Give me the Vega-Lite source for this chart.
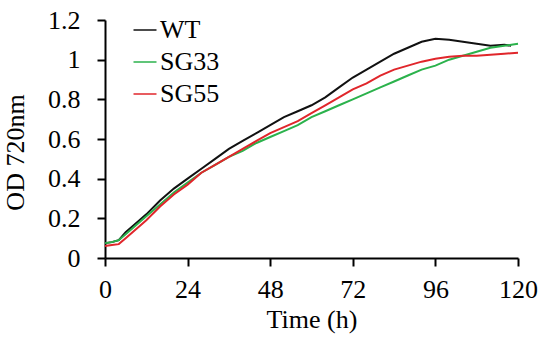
{
  "$schema": "https://vega.github.io/schema/vega-lite/v6.json",
  "autosize": {"type": "none"},
  "width": 413,
  "height": 238,
  "padding": {"left": 105, "top": 20, "right": 24, "bottom": 83},
  "background": "white",
  "config": {
    "view": {"stroke": null},
    "font": "Liberation Serif"
  },
  "data": {
    "values": [
      {"t": 0, "od": 0.075, "strain": "WT"},
      {"t": 2, "od": 0.08, "strain": "WT"},
      {"t": 4, "od": 0.09, "strain": "WT"},
      {"t": 6, "od": 0.13, "strain": "WT"},
      {"t": 8, "od": 0.16, "strain": "WT"},
      {"t": 12, "od": 0.22, "strain": "WT"},
      {"t": 16, "od": 0.29, "strain": "WT"},
      {"t": 20, "od": 0.35, "strain": "WT"},
      {"t": 24, "od": 0.40, "strain": "WT"},
      {"t": 28, "od": 0.45, "strain": "WT"},
      {"t": 32, "od": 0.50, "strain": "WT"},
      {"t": 36, "od": 0.55, "strain": "WT"},
      {"t": 40, "od": 0.59, "strain": "WT"},
      {"t": 44, "od": 0.63, "strain": "WT"},
      {"t": 48, "od": 0.67, "strain": "WT"},
      {"t": 52, "od": 0.71, "strain": "WT"},
      {"t": 56, "od": 0.74, "strain": "WT"},
      {"t": 60, "od": 0.77, "strain": "WT"},
      {"t": 64, "od": 0.81, "strain": "WT"},
      {"t": 68, "od": 0.86, "strain": "WT"},
      {"t": 72, "od": 0.91, "strain": "WT"},
      {"t": 76, "od": 0.95, "strain": "WT"},
      {"t": 80, "od": 0.99, "strain": "WT"},
      {"t": 84, "od": 1.03, "strain": "WT"},
      {"t": 88, "od": 1.06, "strain": "WT"},
      {"t": 92, "od": 1.09, "strain": "WT"},
      {"t": 96, "od": 1.105, "strain": "WT"},
      {"t": 100, "od": 1.10, "strain": "WT"},
      {"t": 104, "od": 1.09, "strain": "WT"},
      {"t": 108, "od": 1.08, "strain": "WT"},
      {"t": 112, "od": 1.07, "strain": "WT"},
      {"t": 116, "od": 1.075, "strain": "WT"},
      {"t": 118, "od": 1.07, "strain": "WT"},
      {"t": 0, "od": 0.075, "strain": "SG33"},
      {"t": 2, "od": 0.08, "strain": "SG33"},
      {"t": 4, "od": 0.09, "strain": "SG33"},
      {"t": 6, "od": 0.12, "strain": "SG33"},
      {"t": 8, "od": 0.15, "strain": "SG33"},
      {"t": 12, "od": 0.21, "strain": "SG33"},
      {"t": 16, "od": 0.27, "strain": "SG33"},
      {"t": 20, "od": 0.33, "strain": "SG33"},
      {"t": 24, "od": 0.38, "strain": "SG33"},
      {"t": 28, "od": 0.43, "strain": "SG33"},
      {"t": 32, "od": 0.47, "strain": "SG33"},
      {"t": 36, "od": 0.51, "strain": "SG33"},
      {"t": 40, "od": 0.54, "strain": "SG33"},
      {"t": 44, "od": 0.58, "strain": "SG33"},
      {"t": 48, "od": 0.61, "strain": "SG33"},
      {"t": 52, "od": 0.64, "strain": "SG33"},
      {"t": 56, "od": 0.67, "strain": "SG33"},
      {"t": 60, "od": 0.71, "strain": "SG33"},
      {"t": 64, "od": 0.74, "strain": "SG33"},
      {"t": 68, "od": 0.77, "strain": "SG33"},
      {"t": 72, "od": 0.80, "strain": "SG33"},
      {"t": 76, "od": 0.83, "strain": "SG33"},
      {"t": 80, "od": 0.86, "strain": "SG33"},
      {"t": 84, "od": 0.89, "strain": "SG33"},
      {"t": 88, "od": 0.92, "strain": "SG33"},
      {"t": 92, "od": 0.95, "strain": "SG33"},
      {"t": 96, "od": 0.97, "strain": "SG33"},
      {"t": 100, "od": 1.00, "strain": "SG33"},
      {"t": 104, "od": 1.02, "strain": "SG33"},
      {"t": 108, "od": 1.04, "strain": "SG33"},
      {"t": 112, "od": 1.06, "strain": "SG33"},
      {"t": 116, "od": 1.07, "strain": "SG33"},
      {"t": 120, "od": 1.08, "strain": "SG33"},
      {"t": 0, "od": 0.06, "strain": "SG55"},
      {"t": 2, "od": 0.065, "strain": "SG55"},
      {"t": 4, "od": 0.07, "strain": "SG55"},
      {"t": 6, "od": 0.10, "strain": "SG55"},
      {"t": 8, "od": 0.13, "strain": "SG55"},
      {"t": 12, "od": 0.19, "strain": "SG55"},
      {"t": 16, "od": 0.26, "strain": "SG55"},
      {"t": 20, "od": 0.32, "strain": "SG55"},
      {"t": 24, "od": 0.37, "strain": "SG55"},
      {"t": 28, "od": 0.43, "strain": "SG55"},
      {"t": 32, "od": 0.47, "strain": "SG55"},
      {"t": 36, "od": 0.51, "strain": "SG55"},
      {"t": 40, "od": 0.55, "strain": "SG55"},
      {"t": 44, "od": 0.59, "strain": "SG55"},
      {"t": 48, "od": 0.63, "strain": "SG55"},
      {"t": 52, "od": 0.66, "strain": "SG55"},
      {"t": 56, "od": 0.69, "strain": "SG55"},
      {"t": 60, "od": 0.73, "strain": "SG55"},
      {"t": 64, "od": 0.77, "strain": "SG55"},
      {"t": 68, "od": 0.81, "strain": "SG55"},
      {"t": 72, "od": 0.85, "strain": "SG55"},
      {"t": 76, "od": 0.88, "strain": "SG55"},
      {"t": 80, "od": 0.92, "strain": "SG55"},
      {"t": 84, "od": 0.95, "strain": "SG55"},
      {"t": 88, "od": 0.97, "strain": "SG55"},
      {"t": 92, "od": 0.99, "strain": "SG55"},
      {"t": 96, "od": 1.005, "strain": "SG55"},
      {"t": 100, "od": 1.015, "strain": "SG55"},
      {"t": 104, "od": 1.02, "strain": "SG55"},
      {"t": 108, "od": 1.02, "strain": "SG55"},
      {"t": 112, "od": 1.025, "strain": "SG55"},
      {"t": 116, "od": 1.03, "strain": "SG55"},
      {"t": 120, "od": 1.035, "strain": "SG55"}
    ]
  },
  "mark": {"type": "line", "strokeWidth": 2},
  "encoding": {
    "x": {
      "field": "t", "type": "quantitative",
      "scale": {"domain": [0, 120], "nice": false},
      "axis": {
        "title": "Time (h)", "values": [0, 24, 48, 72, 96, 120],
        "grid": false, "domainColor": "black", "domainWidth": 2,
        "tickColor": "black", "tickWidth": 2, "tickSize": 8,
        "labelFont": "Liberation Serif", "labelFontSize": 26, "labelColor": "black",
        "labelPadding": 10, "labelFlush": false,
        "titleFont": "Liberation Serif", "titleFontSize": 26, "titleFontWeight": "normal",
        "titleColor": "black", "titlePadding": 4
      }
    },
    "y": {
      "field": "od", "type": "quantitative",
      "scale": {"domain": [0, 1.2], "nice": false},
      "axis": {
        "title": "OD 720nm", "values": [0, 0.2, 0.4, 0.6, 0.8, 1, 1.2],
        "format": "~g",
        "grid": false, "domainColor": "black", "domainWidth": 2,
        "tickColor": "black", "tickWidth": 2, "tickSize": 8,
        "labelFont": "Liberation Serif", "labelFontSize": 26, "labelColor": "black",
        "labelPadding": 17, "labelFlush": false,
        "titleFont": "Liberation Serif", "titleFontSize": 26, "titleFontWeight": "normal",
        "titleColor": "black", "titleAngle": 270, "titleAlign": "center", "titleBaseline": "bottom",
        "titleX": -77, "titleY": 132
      }
    },
    "color": {
      "field": "strain", "type": "nominal",
      "scale": {"domain": ["WT", "SG33", "SG55"], "range": ["#111111", "#2bb24c", "#e0262b"]},
      "legend": {
        "title": null, "orient": "none", "legendX": 27, "legendY": -3,
        "symbolType": "stroke", "symbolSize": 529, "symbolStrokeWidth": 1.5,
        "labelFont": "Liberation Serif", "labelFontSize": 26, "labelColor": "black",
        "labelOffset": 2, "rowPadding": 6, "padding": 0
      }
    }
  }
}
